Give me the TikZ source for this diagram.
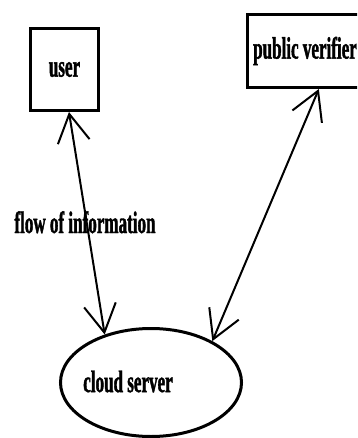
\documentclass[tikz,border=0pt]{standalone}
\usepackage{fontspec}
\setmainfont{Liberation Serif}[FakeStretch=0.55,BoldFeatures={FakeBold=1.2}]
\usetikzlibrary{arrows.meta,shapes.geometric}

\begin{document}
\begin{tikzpicture}[x=1pt,y=-1pt,
    font=\fontsize{31}{36}\selectfont\bfseries,
    party/.style={draw,line width=3pt,inner sep=0pt},
    flow/.style={{Straight Barb[length=28pt,width=32pt]}-{Straight Barb[length=28pt,width=32pt]},line width=2pt}]
        \useasboundingbox (0,0) rectangle (357,438);
        \clip (0,0) rectangle (357,438);

        \node[party,minimum width=68pt,minimum height=82pt]
          (user) at (64.5,69.5) {user};
        \node[party,minimum width=115pt,minimum height=73pt]
          (verifier) at (305,51) {public verifier};
        \node[party,ellipse,minimum width=181pt,minimum height=108pt,
          label={[xshift=-23pt,yshift=1pt]center:cloud server}]
          (cloud) at (151,382.5) {};

        \node[anchor=base] (flowtext) at (85,233) {flow of information};

        \draw[flow] (user.-84) -- (cloud.134);
        \draw[flow] (verifier.-70) -- (cloud.34);
      \end{tikzpicture}
\end{document}
